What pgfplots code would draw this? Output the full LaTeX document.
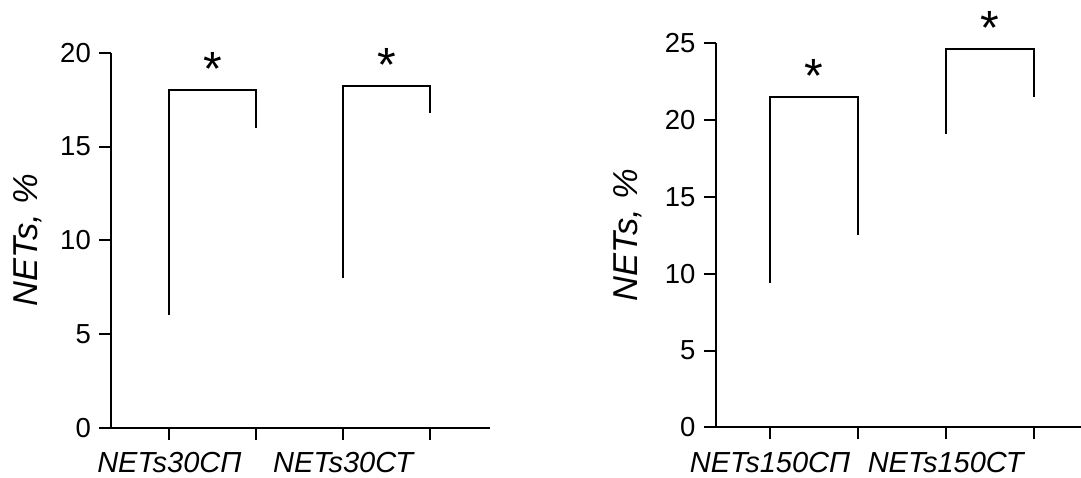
\documentclass[border=0pt]{standalone}
\usepackage{fontspec}
\setmainfont{Liberation Sans}
\usepackage{pgfplots}
\pgfplotsset{compat=1.18}

% Shared look of both panels
\pgfplotsset{
  netspanel/.style={
    scale only axis,
    axis x line*=bottom,
    axis y line*=left,
    axis line style={line width=2pt, black},
    tick style={line width=2pt, black},
    major tick length=12pt,
    tick align=outside,
    ymin=0,
    xtick={1,2,3,4},
    /pgf/number format/assume math mode=true,
    yticklabel style={font=\fontsize{27.5}{29}\selectfont, inner sep=0pt, xshift=-8pt},
    xticklabel style={font=\fontsize{29}{30}\selectfont\itshape, inner sep=0pt, yshift=-12.5pt},
    ylabel={\itshape NETs, \%},
    clip=false,
  },
  ylabelat/.style={every axis y label/.style={at={(axis description cs:#1,0.5)},
    rotate=90, anchor=center, font=\fontsize{34.5}{36}\selectfont}},
  bracket/.style={line width=2pt, black, mark=none},
}
\tikzset{sigstar/.style={font=\fontsize{48}{48}\selectfont, anchor=base, inner sep=0pt, yshift=5pt}}

\begin{document}
\begin{tikzpicture}
\useasboundingbox (0,0) rectangle (1081pt,477pt);

% Left panel: 30 min
\begin{axis}[
  netspanel,
  at={(111pt,49pt)}, anchor=south west,
  width=379pt, height=375.3pt,
  xmin=0.329, xmax=4.69, ymax=20,
  ytick={0,5,10,15,20},
  xticklabels={NETs30СП,,NETs30СТ,},
  ylabelat=-0.219,
]
\addplot[bracket] coordinates {(1,6) (1,18) (2,18) (2,16)};
\addplot[bracket] coordinates {(3,8) (3,18.2) (4,18.2) (4,16.8)};
\node[sigstar] at (axis cs:1.5,18) {*};
\node[sigstar] at (axis cs:3.5,18.2) {*};
\end{axis}

% Right panel: 150 min
\begin{axis}[
  netspanel,
  at={(715.7pt,49.7pt)}, anchor=south west,
  width=365.3pt, height=384pt,
  xmin=0.382, xmax=4.54, ymax=25,
  ytick={0,5,10,15,20,25},
  xticklabels={NETs150СП,,NETs150СТ,},
  ylabelat=-0.240,
]
\addplot[bracket] coordinates {(1,9.4) (1,21.5) (2,21.5) (2,12.5)};
\addplot[bracket] coordinates {(3,19.1) (3,24.6) (4,24.6) (4,21.5)};
\node[sigstar] at (axis cs:1.5,21.5) {*};
\node[sigstar] at (axis cs:3.5,24.6) {*};
\end{axis}
\end{tikzpicture}
\end{document}
